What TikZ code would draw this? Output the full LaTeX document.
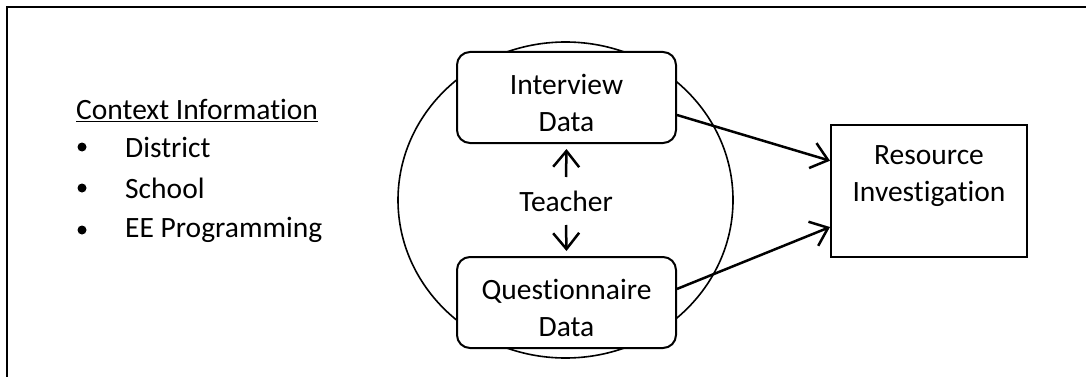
\documentclass[tikz,border=0pt]{standalone}
\usepackage{fontspec}
\setmainfont[Ligatures=NoCommon]{Carlito}
\usetikzlibrary{arrows.meta,shapes.geometric,calc}
\tikzset{
  txt/.style={font=\fontsize{29.5}{37}\selectfont, inner sep=0pt, align=center},
  databox/.style={draw, line width=2pt, rounded corners=13pt, fill=white, minimum width=219pt, minimum height=91pt, inner sep=0pt, align=center, font=\fontsize{29.5}{37}\selectfont},
  conn/.style={line width=2.5pt, -{Straight Barb[length=16pt,width=26pt,line width=2.5pt]}},
  bul/.style={circle, fill=black, inner sep=0pt, minimum size=9pt},
}
\begin{document}
\begin{tikzpicture}[x=1pt,y=-1pt]
\useasboundingbox (0,0) rectangle (1086,377);
% outer frame (right and bottom sides are cut off)
\draw[line width=2.5pt] (7,380) -- (7,7) -- (1090,7);
% left list
\node[txt, anchor=base west] (ctx) at (76,120) {\underline{Context Information}};
\node[bul] (b1) at (82,147) {};
\node[bul] (b2) at (82,188) {};
\node[bul] (b3) at (82,230) {};
\node[txt, anchor=west] (i1) at (125,147) {District};
\node[txt, anchor=west] (i2) at (125,188) {School};
\node[txt, anchor=west] (i3) at (125,230) {EE Programming};
% circle
\node[ellipse, draw, line width=1.6pt, minimum width=335pt, minimum height=316pt, inner sep=0pt] (circ) at (565.5,200) {};
% data boxes
\node[databox] (int) at (566.5,97.5) {\rule{0pt}{31pt}Interview\\Data};
\node[databox] (que) at (566.5,302.5) {\rule{0pt}{31pt}Questionnaire\\Data};
\node[txt] (tea) at (566,201) {Teacher};
\draw[conn] ([yshift=24pt]tea.center) -- ([yshift=-5pt]int.south);
\draw[conn] ([yshift=-24pt]tea.center) -- ([yshift=5pt]que.north);
% resource box
\node[draw, line width=2pt, minimum width=196pt, minimum height=132pt, inner sep=0pt] (res) at (929,191) {};
\node[txt] (rest) at (929,176) {Resource\\Investigation};
\draw[conn] (int.-9) -- (res.163.5);
\draw[conn] (que.7.5) -- (res.200);
\end{tikzpicture}
\end{document}
